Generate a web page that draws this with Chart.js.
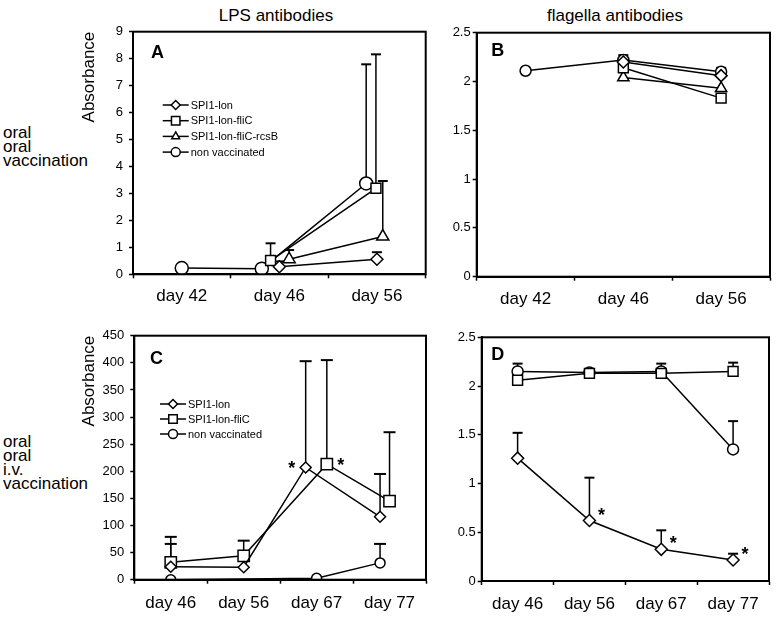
<!DOCTYPE html>
<html><head><meta charset="utf-8">
<script src="https://cdn.jsdelivr.net/npm/chart.js@4/dist/chart.umd.min.js"></script>
<style>
html,body{margin:0;padding:0;background:#fff;}
body{width:778px;height:617px;position:relative;overflow:hidden;font-family:"Liberation Sans",Arial,sans-serif;color:#000;}
canvas{position:absolute;}
.txt{position:absolute;font-size:17px;white-space:nowrap;line-height:20px;}
.side{position:absolute;font-size:17px;white-space:nowrap;line-height:14px;left:3px;}
</style></head><body>
<div class="txt" style="left:176px;top:6px;width:200px;text-align:center;">LPS antibodies</div>
<div class="txt" style="left:515px;top:6px;width:200px;text-align:center;">flagella antibodies</div>
<div class="side" style="top:126px;">oral<br>oral<br>vaccination</div>
<div class="side" style="top:435px;">oral<br>oral<br>i.v.<br>vaccination</div>
<canvas id="cA"></canvas>
<canvas id="cB"></canvas>
<canvas id="cC"></canvas>
<canvas id="cD"></canvas>
<script>
// ---------- DATA ----------
const daysTop = ['day 42', 'day 46', 'day 56'];
const daysBottom = ['day 46', 'day 56', 'day 67', 'day 77'];
const seriesTop = ['SPI1-lon', 'SPI1-lon-fliC', 'SPI1-lon-fliC-rcsB', 'non vaccinated'];
const seriesBottom = ['SPI1-lon', 'SPI1-lon-fliC', 'non vaccinated'];

// Panel A: LPS antibodies, oral + oral
const lpsA_lon = [null, 0.28, 0.56];
const lpsA_lon_err = [null, 0.2, 0.26];
const lpsA_fliC = [null, 0.51, 3.19];
const lpsA_fliC_err = [null, 0.64, 4.97];
const lpsA_rcsB = [null, 0.56, 1.4];
const lpsA_rcsB_err = [null, 0.34, 2.06];
const lpsA_nonvac = [0.23, 0.21, 3.37];
const lpsA_nonvac_err = [null, null, 4.42];
// horizontal dodge of the points inside each day (category units)
const lpsA_lon_dodge = [0, 0, 0];
const lpsA_fliC_dodge = [0, -0.09, -0.01];
const lpsA_rcsB_dodge = [0, 0.1, 0.06];
const lpsA_nonvac_dodge = [0, -0.18, -0.11];

// Panel B: flagella antibodies, oral + oral
const flaB_lon = [null, 2.20, 2.06];
const flaB_lon_err = [null, null, null];
const flaB_fliC = [null, 2.14, 1.83];
const flaB_fliC_err = [null, 0.13, null];
const flaB_rcsB = [null, 2.04, 1.93];
const flaB_rcsB_err = [null, null, null];
const flaB_nonvac = [2.11, 2.22, 2.10];
const flaB_nonvac_err = [null, null, 0.04];

// Panel C: LPS antibodies, oral + oral + i.v.
const lpsC_lon = [24, 23, 207, 116];
const lpsC_lon_err = [42, null, 196, 79];
const lpsC_fliC = [32, 44, 213, 145];
const lpsC_fliC_err = [47, 28, 192, 127];
const lpsC_nonvac = [0, null, 2.5, 31];
const lpsC_nonvac_err = [null, null, null, 35];
const lpsC_lon_dodge = [0, 0, -0.15, -0.13];
const lpsC_fliC_dodge = [0, 0, 0.14, 0];
const lpsC_nonvac_dodge = [0, 0, 0, -0.13];
const lpsC_lon_stars = [null, null, 'left', null];
const lpsC_fliC_stars = [null, null, 'right', null];

// Panel D: flagella antibodies, oral + oral + i.v.
const flaD_lon = [1.26, 0.62, 0.325, 0.215];
const flaD_lon_err = [0.26, 0.44, 0.195, 0.065];
const flaD_fliC = [2.06, 2.13, 2.13, 2.15];
const flaD_fliC_err = [null, null, null, 0.09];
const flaD_nonvac = [2.15, 2.14, 2.15, 1.35];
const flaD_nonvac_err = [0.08, null, 0.08, 0.29];
const flaD_lon_stars = [null, 'right', 'right', 'right'];

// ---------- DRAWING ----------
Chart.defaults.font.family = "'Liberation Sans', Arial, sans-serif";
Chart.defaults.color = '#000';

function marker(ctx, style, r, x, y) {
  ctx.beginPath();
  if (style === 'circle') ctx.arc(x, y, r, 0, Math.PI * 2);
  else if (style === 'rect') { const s = r * Math.SQRT1_2; ctx.rect(x - s, y - s, 2 * s, 2 * s); }
  else if (style === 'rectRot') { ctx.moveTo(x - r, y); ctx.lineTo(x, y - r); ctx.lineTo(x + r, y); ctx.lineTo(x, y + r); ctx.closePath(); }
  else if (style === 'triangle') {
    let a = 0; ctx.moveTo(x + Math.sin(a) * r, y - Math.cos(a) * r);
    a += 2 * Math.PI / 3; ctx.lineTo(x + Math.sin(a) * r, y - Math.cos(a) * r);
    a += 2 * Math.PI / 3; ctx.lineTo(x + Math.sin(a) * r, y - Math.cos(a) * r); ctx.closePath();
  }
  ctx.fillStyle = '#fff'; ctx.fill(); ctx.lineWidth = 1.5; ctx.strokeStyle = '#000'; ctx.stroke();
}

const extras = {
  id: 'extras',
  beforeDatasetsDraw(chart, args, o) {
    const ctx = chart.ctx, ys = chart.scales.y;
    ctx.save(); ctx.strokeStyle = '#000';
    chart.data.datasets.forEach((ds, di) => {
      if (!ds.errors) return;
      const meta = chart.getDatasetMeta(di);
      ds.errors.forEach((e, i) => {
        const v = ds.data[i].y;
        if (e == null || v == null) return;
        const x = meta.data[i].x, y0 = ys.getPixelForValue(v), y1 = ys.getPixelForValue(v + e);
        ctx.lineWidth = 1.5; ctx.beginPath(); ctx.moveTo(x, y0); ctx.lineTo(x, y1); ctx.stroke();
        ctx.lineWidth = 2; ctx.beginPath(); ctx.moveTo(x - o.cap, y1); ctx.lineTo(x + o.cap, y1); ctx.stroke();
      });
    });
    ctx.restore();
  },
  afterDatasetsDraw(chart, args, o) {
    const ctx = chart.ctx, a = chart.chartArea;
    ctx.save();
    // frame
    ctx.strokeStyle = '#000'; ctx.lineWidth = 2;
    ctx.strokeRect(a.left, a.top, a.right - a.left, a.bottom - a.top);
    // panel letter
    ctx.fillStyle = '#000'; ctx.font = "bold 18px 'Liberation Sans', Arial, sans-serif";
    ctx.textAlign = 'center'; ctx.textBaseline = 'middle';
    ctx.fillText(o.letter, a.left + o.letterDx, a.top + o.letterDy);
    // stars
    ctx.font = "bold 18px 'Liberation Sans', Arial, sans-serif";
    chart.data.datasets.forEach((ds, di) => {
      if (!ds.stars) return;
      const meta = chart.getDatasetMeta(di);
      ds.stars.forEach((s, i) => {
        if (!s) return;
        const p = meta.data[i];
        ctx.fillText('*', p.x + (s === 'left' ? -o.starDx : o.starDx), p.y + o.starDy);
      });
    });
    // legend
    if (o.legend) {
      const L = o.legend;
      ctx.font = "11px 'Liberation Sans', Arial, sans-serif";
      ctx.textAlign = 'left'; ctx.textBaseline = 'middle';
      chart.data.datasets.forEach((ds, i) => {
        const x0 = a.left + L.dx, y = a.top + L.dy + i * L.gap;
        ctx.strokeStyle = '#000'; ctx.lineWidth = 1.5;
        ctx.beginPath(); ctx.moveTo(x0, y); ctx.lineTo(x0 + L.len, y); ctx.stroke();
        marker(ctx, ds.pointStyle, ds.pointStyle === 'rect' ? 6 : 4.5, x0 + L.len / 2, y);
        ctx.fillStyle = '#000';
        ctx.fillText(ds.label, x0 + L.len + 2, y + 0.5);
      });
    }
    ctx.restore();
  }
};

function series(label, vals, errs, dodge, style, r, stars) {
  return {
    label, errors: errs, stars,
    data: vals.map((v, i) => ({ x: i + (dodge ? dodge[i] : 0), y: v })),
    pointStyle: style, pointRadius: r, pointHoverRadius: r, pointBorderWidth: 1.5,
    pointBackgroundColor: '#fff', pointBorderColor: '#000',
    borderColor: '#000', borderWidth: 1.5, tension: 0, spanGaps: true, fill: false
  };
}

function panel(id, box, area, cfg) {
  const cv = document.getElementById(id);
  cv.width = box.w; cv.height = box.h;
  cv.style.left = box.x + 'px'; cv.style.top = box.y + 'px';
  const yW = area.l - box.x, xH = cfg.xH;
  const pad = { left: 0, top: area.t - box.y, right: box.x + box.w - area.r, bottom: box.y + box.h - area.b - xH };
  const n = cfg.labels.length;
  const isInt = v => Math.abs(v - Math.round(v)) < 1e-6;
  new Chart(cv, {
    type: 'line',
    data: { datasets: cfg.datasets },
    options: {
      responsive: false, animation: false, devicePixelRatio: 1,
      layout: { padding: pad, autoPadding: false },
      plugins: { legend: { display: false }, tooltip: { enabled: false }, extras: cfg.extras },
      scales: {
        x: {
          type: 'linear', min: -0.5, max: n - 0.5,
          afterFit(s) { s.height = xH; },
          ticks: {
            stepSize: 0.5, autoSkip: false, maxRotation: 0, minRotation: 0, padding: cfg.xPad,
            font: { size: 17 }, color: '#000',
            callback: v => isInt(v) ? cfg.labels[Math.round(v)] : ''
          },
          grid: { drawOnChartArea: false, tickLength: 4, tickWidth: 1.5,
                  tickColor: c => (c.tick && isInt(c.tick.value)) ? 'rgba(0,0,0,0)' : '#000' },
          border: { color: '#000', width: 2 }
        },
        y: {
          min: 0, max: cfg.yMax,
          afterFit(s) { s.width = yW; },
          ticks: { stepSize: cfg.yStep, padding: cfg.yPad, font: { size: 13 }, color: '#000', callback: v => String(v) },
          grid: { drawOnChartArea: false, tickLength: 4, tickWidth: 1.5, tickColor: '#000' },
          border: { color: '#000', width: 2 },
          title: cfg.yTitle ? { display: true, text: cfg.yTitle, align: 'end', font: { size: 17 }, color: '#000', padding: { top: 4, bottom: 4 } } : { display: false }
        }
      }
    },
    plugins: [extras]
  });
}

// Panel A
panel('cA', { x: 75, y: 0, w: 360, h: 320 }, { l: 133, t: 31.7, r: 425.7, b: 274.3 }, {
  labels: daysTop, yMax: 9, yStep: 1, yPad: 6, xH: 40, xPad: 8, yTitle: 'Absorbance',
  datasets: [
    series(seriesTop[0], lpsA_lon, lpsA_lon_err, lpsA_lon_dodge, 'rectRot', 6),
    series(seriesTop[1], lpsA_fliC, lpsA_fliC_err, lpsA_fliC_dodge, 'rect', 7),
    series(seriesTop[2], lpsA_rcsB, lpsA_rcsB_err, lpsA_rcsB_dodge, 'triangle', 7),
    series(seriesTop[3], lpsA_nonvac, lpsA_nonvac_err, lpsA_nonvac_dodge, 'circle', 6.5)
  ],
  extras: { cap: 5, letter: 'A', letterDx: 24.5, letterDy: 21, starDx: 13, starDy: 0,
            legend: { dx: 29.7, dy: 73.3, gap: 15.7, len: 26 } }
});

// Panel B
panel('cB', { x: 440, y: 0, w: 338, h: 320 }, { l: 476.7, t: 32.7, r: 770.7, b: 276.7 }, {
  labels: daysTop, yMax: 2.5, yStep: 0.5, yPad: 2, xH: 40, xPad: 8,
  datasets: [
    series(seriesTop[0], flaB_lon, flaB_lon_err, null, 'rectRot', 6),
    series(seriesTop[1], flaB_fliC, flaB_fliC_err, null, 'rect', 7),
    series(seriesTop[2], flaB_rcsB, flaB_rcsB_err, null, 'triangle', 6.5),
    series(seriesTop[3], flaB_nonvac, flaB_nonvac_err, null, 'circle', 5.5)
  ],
  extras: { cap: 5, letter: 'B', letterDx: 21, letterDy: 18.5, starDx: 12, starDy: -6 }
});

// Panel C
panel('cC', { x: 75, y: 320, w: 360, h: 297 }, { l: 134.3, t: 335.7, r: 427.5, b: 579.7 }, {
  labels: daysBottom, yMax: 450, yStep: 50, yPad: 6, xH: 35, xPad: 9, yTitle: 'Absorbance',
  datasets: [
    series(seriesBottom[0], lpsC_lon, lpsC_lon_err, lpsC_lon_dodge, 'rectRot', 5.5, lpsC_lon_stars),
    series(seriesBottom[1], lpsC_fliC, lpsC_fliC_err, lpsC_fliC_dodge, 'rect', 8, lpsC_fliC_stars),
    series(seriesBottom[2], lpsC_nonvac, lpsC_nonvac_err, lpsC_nonvac_dodge, 'circle', 5)
  ],
  extras: { cap: 6, letter: 'C', letterDx: 22.2, letterDy: 23, starDx: 14, starDy: 2,
            legend: { dx: 25.7, dy: 68.3, gap: 15, len: 26 } }
});

// Panel D
panel('cD', { x: 440, y: 320, w: 338, h: 297 }, { l: 481.7, t: 337.3, r: 773.3, b: 581 }, {
  labels: daysBottom, yMax: 2.5, yStep: 0.5, yPad: 2, xH: 35, xPad: 9,
  datasets: [
    series(seriesBottom[0], flaD_lon, flaD_lon_err, null, 'rectRot', 6, flaD_lon_stars),
    series(seriesBottom[1], flaD_fliC, flaD_fliC_err, null, 'rect', 7),
    series(seriesBottom[2], flaD_nonvac, flaD_nonvac_err, null, 'circle', 5.5)
  ],
  extras: { cap: 5, letter: 'D', letterDx: 16, letterDy: 18, starDx: 12, starDy: -5 }
});
</script>
</body></html>
